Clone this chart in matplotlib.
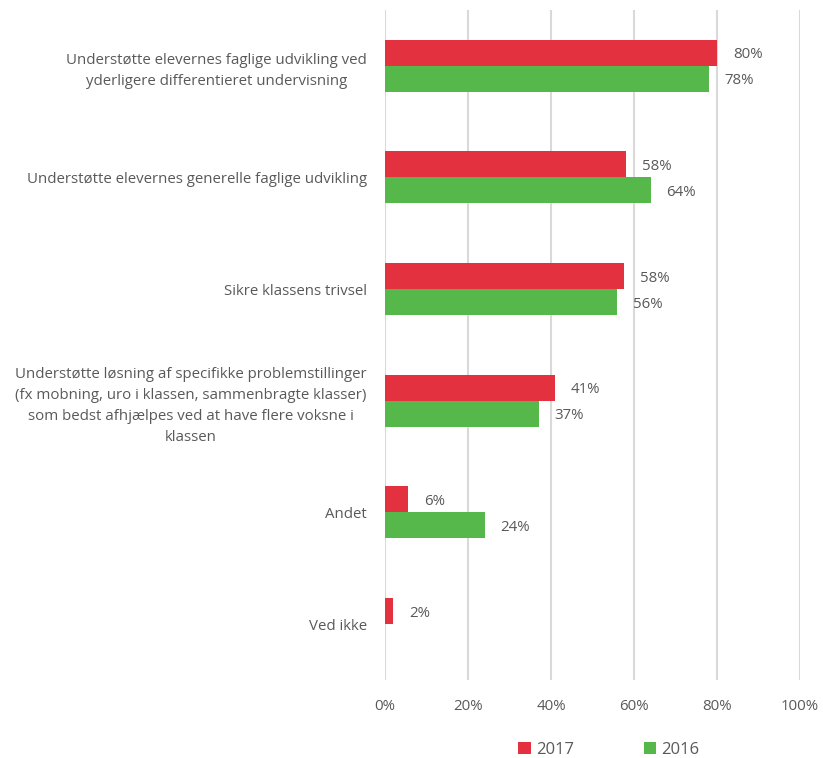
import numpy as np
import matplotlib.pyplot as plt

plt.rcParams['font.family'] = ['Open Sans', 'DejaVu Sans']

kategorier = [
    'Understøtte elevernes faglige udvikling ved\nyderligere differentieret undervisning',
    'Understøtte elevernes generelle faglige udvikling',
    'Sikre klassens trivsel',
    'Understøtte løsning af specifikke problemstillinger\n(fx mobning, uro i klassen, sammenbragte klasser)\nsom bedst afhjælpes ved at have flere voksne i\nklassen',
    'Andet',
    'Ved ikke',
]
v2017 = [80, 58, 58, 41, 6, 2]
v2016 = [78, 64, 56, 37, 24, np.nan]
bar_vals_2017 = [0.80, 0.58, 0.576, 0.41, 0.055, 0.02]
bar_vals_2016 = [0.78, 0.64, 0.56, 0.37, 0.24, np.nan]

rod = '#E3313F'
gron = '#56B84B'
tekst = '#595959'

fig = plt.figure(figsize=(8.23, 7.58), dpi=100)
ax = fig.add_axes([0.4678, 0.103, 0.5042, 0.884])

y = np.arange(len(kategorier))
h = 0.233
b1 = ax.barh(y - h / 2, bar_vals_2017, height=h, color=rod, label='2017', zorder=3)
b2 = ax.barh(y + h / 2, bar_vals_2016, height=h, color=gron, label='2016', zorder=3)

for bars, vals in [(b1, v2017), (b2, v2016)]:
    for bar, v in zip(bars, vals):
        if np.isnan(v):
            continue
        ax.annotate(f'{v:.0f}%', (bar.get_width(), bar.get_y() + bar.get_height() / 2),
                    xytext=(11.5, -1.5), textcoords='offset points', va='center', ha='left',
                    fontsize=10.8, color=tekst)

ax.set_xlim(0, 1)
ax.set_ylim(len(kategorier) - 0.5, -0.5)
ax.set_xticks(np.arange(0, 1.01, 0.2))
ax.set_xticklabels([f'{int(t * 100)}%' for t in np.arange(0, 1.01, 0.2)])
ax.set_yticks(y)
ax.set_yticklabels(kategorier, multialignment='center', linespacing=1.55)
ax.tick_params(axis='y', length=0, pad=13, labelsize=10.8, labelcolor=tekst)
ax.tick_params(axis='x', length=0, pad=14, labelsize=10.8, labelcolor=tekst)
ax.grid(axis='x', color='#D9D9D9', linewidth=1.5, zorder=0)
for s in ax.spines.values():
    s.set_visible(False)

leg = fig.legend(handles=[b1, b2], labels=['2017', '2016'], loc='center',
                 bbox_to_anchor=(0.74, 0.011), ncol=2, frameon=False,
                 fontsize=12, handlelength=0.75, handleheight=0.75,
                 handletextpad=0.3, columnspacing=4.2)
for t in leg.get_texts():
    t.set_color(tekst)

fig.savefig('out.png', dpi=100)
